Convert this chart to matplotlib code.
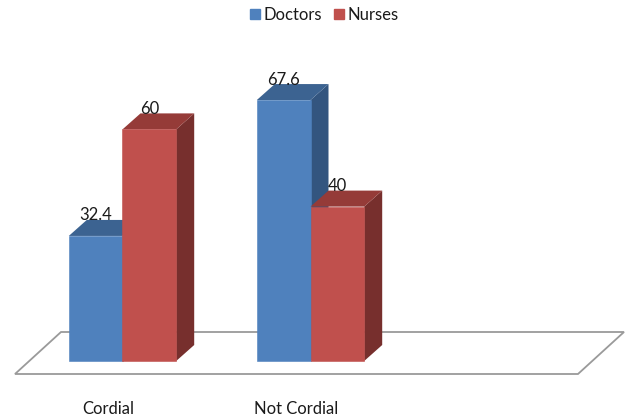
import matplotlib
matplotlib.use('Agg')
import matplotlib.pyplot as plt
from matplotlib.patches import Patch, Polygon
import numpy as np

categories = ['Cordial', 'Not Cordial']
doctors = [32.4, 67.6]
nurses = [60, 40]
value_labels = [['32.4', '67.6'], ['60', '40']]

W, H = 630, 419
BASE_PX = 361       # pixel row of value 0
PX_PER_UNIT = 3.86
PX_PER_CAT = 188
CAT0_PX = 122.5
AX_BOTTOM_PX = 398
TEXT_SIZE = 12

plt.rcParams['font.family'] = ['Lato', 'DejaVu Sans']

fig = plt.figure(figsize=(W / 100, H / 100), dpi=100)
ax = fig.add_axes([0, 1 - AX_BOTTOM_PX / H, 1, AX_BOTTOM_PX / H])
ax.set_xlim(-CAT0_PX / PX_PER_CAT, (W - CAT0_PX) / PX_PER_CAT)
ax.set_ylim((BASE_PX - AX_BOTTOM_PX) / PX_PER_UNIT, BASE_PX / PX_PER_UNIT)

# conversions for the fake 3d depth
def px_x(p):
    return (p - CAT0_PX) / PX_PER_CAT

def px_y(p):
    return (BASE_PX - p) / PX_PER_UNIT

depth_x = 18 / PX_PER_CAT
depth_y = 16 / PX_PER_UNIT
bar_w = 53.7 / PX_PER_CAT

# floor
floor = [(px_x(15), px_y(374)), (px_x(578), px_y(374)), (px_x(624), px_y(332)), (px_x(61), px_y(332))]
ax.add_patch(Polygon(floor, closed=True, facecolor='white', edgecolor='#9a9a9a', linewidth=1.3, zorder=1))


def draw_bar(x0, val, front, top, side, label, z):
    x1 = x0 + bar_w
    ax.bar(x0, val, width=bar_w, align='edge', color=front, edgecolor=front, linewidth=0.4, zorder=z + 0.2)
    ax.add_patch(Polygon([(x1, 0), (x1 + depth_x, depth_y), (x1 + depth_x, val + depth_y), (x1, val)],
                         closed=True, facecolor=side, edgecolor='none', zorder=z))
    ax.add_patch(Polygon([(x0, val), (x1, val), (x1 + depth_x, val + depth_y), (x0 + depth_x, val + depth_y)],
                         closed=True, facecolor=top, edgecolor='none', zorder=z + 0.1))
    ax.text(x0 + bar_w / 2, val + 20.5 / PX_PER_UNIT, label, ha='center', va='center',
            fontsize=TEXT_SIZE, color='#1a1a1a', zorder=10)


x = np.arange(len(categories))
for i in x:
    draw_bar(i - bar_w, doctors[i], '#4F81BD', '#3C6391', '#33557F', value_labels[0][i], 2)
    draw_bar(i, nurses[i], '#C0504D', '#953B38', '#772F2D', value_labels[1][i], 3)

for s in ax.spines.values():
    s.set_visible(False)
ax.set_yticks([])
ax.set_xticks(x - 14.5 / PX_PER_CAT)
ax.set_xticklabels(categories, fontsize=TEXT_SIZE, color='#1a1a1a')
ax.tick_params(axis='x', length=0, pad=2)

handles = [Patch(facecolor='#4F81BD', edgecolor='#4F81BD'), Patch(facecolor='#C0504D', edgecolor='#C0504D')]
ax.legend(handles, ['Doctors', 'Nurses'], loc='upper center', bbox_to_anchor=(324 / W, 1.012), ncol=2,
          frameon=False, fontsize=TEXT_SIZE, labelcolor='#1a1a1a', handlelength=0.6, handleheight=0.6,
          handletextpad=0.22, columnspacing=0.7, borderpad=0.2)

fig.savefig('out.png', dpi=100, facecolor='white')
